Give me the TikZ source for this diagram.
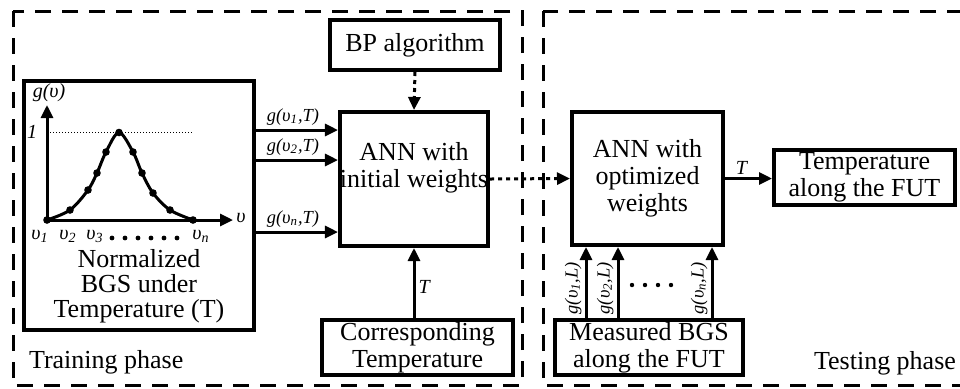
\documentclass[tikz,border=0pt]{standalone}
\usepackage{fontspec}
\setmainfont{Liberation Serif}
\usetikzlibrary{arrows}
\usetikzlibrary{arrows.meta}
\usetikzlibrary{shapes}

\newcommand{\gfun}[2]{\textit{g(υ\textsubscript{#1},#2)}}

\begin{document}
\begin{tikzpicture}[>={Triangle[length=6.5pt, width=6pt]}, x=0.5pt, y=-0.5pt,
  box/.style={draw, line width=2pt, align=center, inner sep=0pt,
    font=\fontsize{13}{13.4}\selectfont},
  phase/.style={line width=1.5pt, dash pattern=on 8pt off 5.5pt},
  flow/.style={->, line width=1.5pt},
  dotflow/.style={->, line width=1.5pt, dash pattern=on 2pt off 2pt},
  lbl/.style={font=\fontsize{9.2}{10}\selectfont\itshape, inner sep=1.5pt},
  axlbl/.style={font=\fontsize{10}{12}\selectfont\itshape, inner sep=1.5pt}]

\path[use as bounding box, clip] (0,0) rectangle (960,388);

% Phase frames
\draw[phase] (13,11) rectangle (522,385);
\draw[phase] (543,11) rectangle (1000,385);
\node (trainlbl) [anchor=west, font=\fontsize{13}{13.4}\selectfont] at (22,362) {Training phase};
\node (testlbl) [anchor=east, font=\fontsize{13}{13.4}\selectfont] at (963,363) {Testing phase};

% Define nodes
\node (bgs) [box, minimum width=115pt, minimum height=124.5pt] at (139,205.5) {};
\node (bgstext) [align=center, font=\fontsize{13}{12.6}\selectfont] at (139,286)
  {Normalized\\BGS under\\Temperature (T)};
\node (bp) [box, minimum width=85pt, minimum height=25pt] at (415,45) {BP algorithm};
\node (ann1) [box, minimum width=74pt, minimum height=67pt] at (414,179) {ANN with\\initial weights\\[1pt]};
\node (corr) [box, minimum width=95.5pt, minimum height=27.5pt] at (417.5,347.5) {Corresponding\\Temperature};
\node (ann2) [box, minimum width=75.5pt, minimum height=66.5pt] at (647.5,178.5) {ANN with\\optimized\\weights};
\node (tfut) [box, minimum width=90.5pt, minimum height=27.5pt] at (864.5,177.5) {Temperature\\along the FUT};
\node (meas) [box, minimum width=94pt, minimum height=27.5pt] at (649,347.5) {Measured BGS\\along the FUT};

% BGS curve inside the graph box
\coordinate (o) at (47,220);
\coordinate (ytop) at (47,105);
\coordinate (xend) at (233,220);
\coordinate (peak) at (119,132.5);
\draw[flow] (o) -- (ytop);
\draw[flow] (o) -- (xend);
\draw[line width=0.5pt, densely dotted] (o |- peak) -- (194,132.5);
\draw[line width=1.5pt] plot[smooth, tension=0.55] coordinates
  {(47,220) (70,210) (88,190) (97,173) (106,152) (119,132.5) (133,152) (142,173) (153,193) (170,210) (193,220)};
\foreach \p in {(47,220),(70,210),(88,190),(97,173),(106,152),(119,132.5),(133,152),(142,173),(153,193),(170,210),(193,220)}
  \fill \p circle (3.8);
\node (gy) [axlbl] at (49,93) {g(υ)};
\node (one) [axlbl] at (32,132) {1};
\node (vx) [axlbl] at (241,218) {υ};
\node (v1) [axlbl] at (40,236) {υ\textsubscript{1}};
\node (v2) [axlbl] at (68,236) {υ\textsubscript{2}};
\node (v3) [axlbl] at (95,236) {υ\textsubscript{3}};
\node (vn) [axlbl] at (201,236) {υ\textsubscript{n}};
\foreach \x in {112,125,...,177}
  \fill (\x,238) circle (2.4);

% Inputs to the ANN in training
\coordinate (in1) at (0,130);
\coordinate (in2) at (0,160);
\coordinate (inn) at (0,232);
\draw[flow] (bgs.east |- in1) -- node[lbl, above, xshift=-2pt] {\gfun{1}{T}} (ann1.west |- in1);
\draw[flow] (bgs.east |- in2) -- node[lbl, above, xshift=-2pt] {\gfun{2}{T}} (ann1.west |- in2);
\draw[flow] (bgs.east |- inn) -- node[lbl, above, xshift=-2pt] {\gfun{n}{T}} (ann1.west |- inn);

\draw[dotflow] (bp.south) -- (ann1.north);
\draw[flow] (ann1.south |- corr.north) -- node[axlbl, right, pos=0.45] {T} (ann1.south);
\draw[dotflow] (ann1.east) -- (ann2.west);

% Testing
\draw[flow] (ann2.east) -- node[axlbl, above, pos=0.35] {T} (tfut.west |- ann2.east);
\coordinate (b1) at (586,0);
\coordinate (b2) at (618,0);
\coordinate (bn) at (712,0);
\draw[flow] (meas.north -| b1) -- node[lbl, rotate=90, anchor=south, pos=0.42] {\gfun{1}{L}} (ann2.south -| b1);
\draw[flow] (meas.north -| b2) -- node[lbl, rotate=90, anchor=south, pos=0.42] {\gfun{2}{L}} (ann2.south -| b2);
\draw[flow] (meas.north -| bn) -- node[lbl, rotate=90, anchor=south, pos=0.42] {\gfun{n}{L}} (ann2.south -| bn);
\foreach \x in {632,645,...,672}
  \fill (\x,285) circle (2.2);

\end{tikzpicture}
\end{document}
